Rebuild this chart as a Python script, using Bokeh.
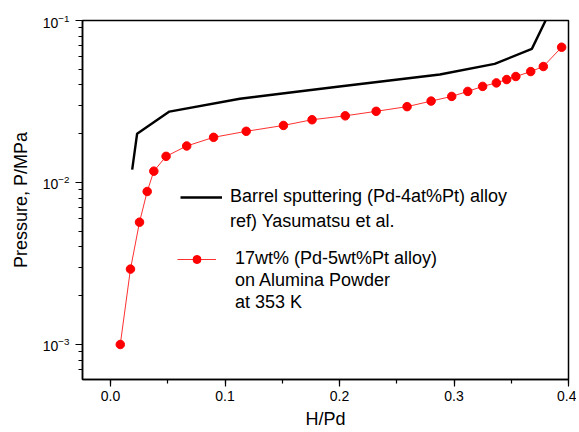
from bokeh.plotting import figure
from bokeh.models import (Range1d, FixedTicker, SingleIntervalTicker, Legend, LegendItem,
                          PrintfTickFormatter)
from bokeh.embed import file_html
from bokeh.resources import INLINE

# Barrel sputtering (Pd-4at%Pt) alloy, ref) Yasumatsu et al.
ref_h = [0.0189, 0.0232, 0.0514, 0.113, 0.15, 0.20, 0.2876, 0.3355, 0.368, 0.380]
ref_p = [0.0120, 0.0200, 0.0274, 0.0329, 0.0354, 0.0391, 0.0464, 0.0540, 0.0668, 0.100]

# 17wt% (Pd-5wt%Pt alloy) on Alumina Powder at 353 K
exp_h = [0.0085, 0.0174, 0.0253, 0.032, 0.0378, 0.0485, 0.0665, 0.090, 0.1185, 0.151,
         0.176, 0.205, 0.232, 0.259, 0.280, 0.298, 0.312, 0.325, 0.337, 0.346,
         0.354, 0.367, 0.378, 0.394]
exp_p = [0.00100, 0.00292, 0.00569, 0.0088, 0.01175, 0.0145, 0.0168, 0.0190, 0.0207, 0.0225,
         0.0244, 0.0258, 0.0275, 0.0294, 0.0318, 0.0340, 0.0365, 0.0392, 0.0412, 0.0432,
         0.0451, 0.0484, 0.0520, 0.0684]

y_ticks = [1e-3, 1e-2, 1e-1]
legend_ref_lines = ["Barrel sputtering (Pd-4at%Pt) alloy", "ref) Yasumatsu et al."]
legend_exp_lines = ["17wt% (Pd-5wt%Pt alloy)", "on Alumina Powder", "at 353 K"]

FONT = "Liberation Sans"
W, H = 576, 432

p = figure(width=W, height=H, y_axis_type="log", output_backend="svg",
           toolbar_location=None,
           x_range=Range1d(-0.0245, 0.4), y_range=Range1d(6.08e-4, 0.1),
           min_border_left=82, min_border_right=8, min_border_top=20, min_border_bottom=53)
p.background_fill_color = "white"
p.border_fill_color = "white"
p.outline_line_color = "black"
p.outline_line_width = 1.5
p.xgrid.visible = False
p.ygrid.visible = False

r_ref = p.line(ref_h, ref_p, line_color="black", line_width=2.4)
r_line = p.line(exp_h, exp_p, line_color="#ff3030", line_width=1)
r_pts = p.scatter(exp_h, exp_p, size=8.5, fill_color="#ff0000", line_color="#ff0000")
r_blank = p.line([], [], line_alpha=0)

# axes
minor = [m * d for d in [1e-4, 1e-3, 1e-2] for m in range(2, 10)]
p.yaxis.ticker = FixedTicker(ticks=y_ticks, minor_ticks=minor)
p.xaxis.ticker = SingleIntervalTicker(interval=0.1, num_minor_ticks=2)
p.xaxis.formatter = PrintfTickFormatter(format="%.1f")

for ax in (p.xaxis[0], p.yaxis[0]):
    ax.axis_line_color = "black"
    ax.axis_line_width = 1.5
    ax.major_tick_line_color = "black"
    ax.minor_tick_line_color = "black"
    ax.major_tick_line_width = 1.2
    ax.minor_tick_line_width = 1.2
    ax.major_tick_in = 0
    ax.major_tick_out = 7
    ax.minor_tick_in = 0
    ax.minor_tick_out = 4
    ax.major_label_text_font = FONT
    ax.major_label_text_font_size = "14px"
    ax.major_label_text_color = "black"
    ax.axis_label_text_font = FONT
    ax.axis_label_text_font_size = "18px"
    ax.axis_label_text_font_style = "normal"
    ax.axis_label_text_color = "black"

p.xaxis.axis_label = "H/Pd"
p.yaxis.axis_label = "Pressure, P/MPa"
p.xaxis.major_label_standoff = 4
p.xaxis.axis_label_standoff = 5
p.yaxis.major_label_standoff = 6
p.yaxis.axis_label_standoff = 9


def make_legend(items, loc, glyph_w, standoff, spacing):
    lg = Legend(items=items, location=loc)
    lg.border_line_color = None
    lg.background_fill_alpha = 0
    lg.padding = 0
    lg.margin = 0
    lg.spacing = spacing
    lg.glyph_width = glyph_w
    lg.glyph_height = 20
    lg.label_height = 20
    lg.label_standoff = standoff
    lg.label_text_font = FONT
    lg.label_text_font_size = "18px"
    lg.label_text_color = "black"
    lg.inactive_fill_alpha = 0
    return lg


leg_ref = make_legend([
    LegendItem(label=legend_ref_lines[0], renderers=[r_ref]),
    LegendItem(label=legend_ref_lines[1], renderers=[r_blank]),
], (98, 147), 42, 8, 4)
leg_exp = make_legend([
    LegendItem(label=legend_exp_lines[0], renderers=[r_line, r_pts]),
    LegendItem(label=legend_exp_lines[1], renderers=[r_blank]),
    LegendItem(label=legend_exp_lines[2], renderers=[r_blank]),
], (95, 66), 39, 19, 1)
p.add_layout(leg_ref)
p.add_layout(leg_exp)

open("out.html", "w").write(file_html(p, INLINE))
